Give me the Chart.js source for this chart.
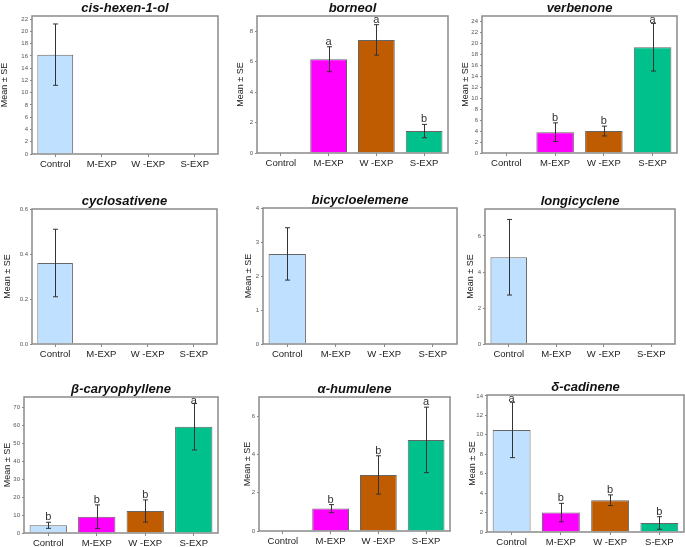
<!DOCTYPE html>
<html>
<head>
<meta charset="utf-8">
<script src="https://cdn.jsdelivr.net/npm/chart.js@4.4.1/dist/chart.umd.min.js"></script>
<style>
  html, body { margin: 0; padding: 0; background: #fff; width: 685px; height: 547px; overflow: hidden; position: relative; }
  canvas { position: absolute; }
</style>
</head>
<body>
<script>
// categories shared by every panel
const categories = ['Control', 'M-EXP', 'W -EXP', 'S-EXP'];
const barColors = ['#bfe0ff', '#ff00ff', '#bf5b00', '#00c08b'];

// compound names (panel titles)
const compounds = ['cis-hexen-1-ol', 'borneol', 'verbenone',
                   'cyclosativene', 'bicycloelemene', 'longicyclene',
                   'β-caryophyllene', 'α-humulene', 'δ-cadinene'];

// means, standard errors and significance letters
const cisHexenolMean = [16.2, 0, 0, 0];
const cisHexenolSE   = [5.0, 0, 0, 0];
const cisHexenolSig  = ['', '', '', ''];

const borneolMean = [0, 6.16, 7.43, 1.44];
const borneolSE   = [0, 0.82, 1.0, 0.44];
const borneolSig  = ['', 'a', 'a', 'b'];

const verbenoneMean = [0, 3.8, 4.0, 19.3];
const verbenoneSE   = [0, 1.7, 0.9, 4.35];
const verbenoneSig  = ['', 'b', 'b', 'a'];

const cyclosativeneMean = [0.36, 0, 0, 0];
const cyclosativeneSE   = [0.15, 0, 0, 0];
const cyclosativeneSig  = ['', '', '', ''];

const bicycloelemeneMean = [2.65, 0, 0, 0];
const bicycloelemeneSE   = [0.77, 0, 0, 0];
const bicycloelemeneSig  = ['', '', '', ''];

const longicycleneMean = [4.82, 0, 0, 0];
const longicycleneSE   = [2.1, 0, 0, 0];
const longicycleneSig  = ['', '', '', ''];

const caryophylleneMean = [4.3, 9.1, 12.3, 59.4];
const caryophylleneSE   = [1.7, 6.6, 6.2, 13.0];
const caryophylleneSig  = ['b', 'b', 'b', 'a'];

const humuleneMean = [0, 1.17, 2.93, 4.76];
const humuleneSE   = [0, 0.21, 1.0, 1.71];
const humuleneSig  = ['', 'b', 'b', 'a'];

const cadineneMean = [10.5, 2.0, 3.27, 0.93];
const cadineneSE   = [2.85, 0.95, 0.55, 0.65];
const cadineneSig  = ['a', 'b', 'b', 'b'];

// y axis ranges / tick steps
const yMaxes = [22.5, 9, 25, 0.6, 4, 7.5, 76, 7, 14.1];
const ySteps = [2, 2, 2, 0.2, 1, 2, 10, 2, 2];

const means = [cisHexenolMean, borneolMean, verbenoneMean, cyclosativeneMean, bicycloelemeneMean,
               longicycleneMean, caryophylleneMean, humuleneMean, cadineneMean];
const errors = [cisHexenolSE, borneolSE, verbenoneSE, cyclosativeneSE, bicycloelemeneSE,
                longicycleneSE, caryophylleneSE, humuleneSE, cadineneSE];
const sigLetters = [cisHexenolSig, borneolSig, verbenoneSig, cyclosativeneSig, bicycloelemeneSig,
                    longicycleneSig, caryophylleneSig, humuleneSig, cadineneSig];

// plot box of each panel on the page: left, top, right, bottom, x of the y-axis title
const boxes = [
  [32, 16, 218, 154, 5],
  [257, 16, 448, 153, 241],
  [482, 16, 677, 153, 466],
  [32, 209, 217, 344, 8],
  [263, 208, 457, 344, 249],
  [485, 209, 675, 344, 471],
  [24, 397, 218, 533, 8],
  [259, 397, 450, 531, 248],
  [487, 395, 684, 532, 473]
];

const FONT = "'Liberation Sans', Arial, sans-serif";
const TOP_SPACE = 17;
const X_AXIS_H = 22;
const RIGHT_SPACE = 3;

// draws white box, frame, title, error bars and letters
const panelPlugin = {
  id: 'panelPlugin',
  beforeDatasetsDraw(chart) {
    const a = chart.chartArea;
    const ctx = chart.ctx;
    ctx.save();
    ctx.fillStyle = '#fff';
    ctx.fillRect(a.left, a.top, a.right - a.left, a.bottom - a.top);
    ctx.restore();
  },
  afterDatasetsDraw(chart) {
    const o = chart.options.plugins.panelPlugin;
    const a = chart.chartArea;
    const ctx = chart.ctx;
    const y = chart.scales.y;
    const meta = chart.getDatasetMeta(0);
    ctx.save();
    // error bars
    ctx.strokeStyle = '#333';
    ctx.lineWidth = 1;
    meta.data.forEach((bar, i) => {
      const m = o.mean[i], e = o.se[i];
      if (!e) return;
      const x = Math.round(bar.x) + 0.5;
      const yt = y.getPixelForValue(m + e);
      const yb = y.getPixelForValue(m - e);
      ctx.beginPath();
      ctx.moveTo(x, yt); ctx.lineTo(x, yb);
      ctx.moveTo(x - 2.5, yt); ctx.lineTo(x + 2.5, yt);
      ctx.moveTo(x - 2.5, yb); ctx.lineTo(x + 2.5, yb);
      ctx.stroke();
    });
    // significance letters
    ctx.fillStyle = '#333';
    ctx.font = '11px ' + FONT;
    ctx.textAlign = 'center';
    ctx.textBaseline = 'middle';
    meta.data.forEach((bar, i) => {
      const t = o.letters[i];
      if (!t) return;
      const yt = y.getPixelForValue(o.mean[i] + o.se[i]);
      ctx.fillText(t, bar.x, Math.max(yt - 5, a.top + 4));
    });
    // frame
    ctx.strokeStyle = '#8a8a8a';
    ctx.lineWidth = 1.5;
    ctx.strokeRect(a.left, a.top, a.right - a.left, a.bottom - a.top);
    // title
    ctx.fillStyle = '#111';
    ctx.font = 'italic bold 13px ' + FONT;
    ctx.textBaseline = 'middle';
    ctx.fillText(o.title, (a.left + a.right) / 2, a.top - 8);
    ctx.restore();
  }
};

boxes.forEach((b, k) => {
  const [bl, bt, br, bb, tx] = b;
  const left = tx - 6;
  const top = bt - TOP_SPACE;
  const w = br - left + RIGHT_SPACE;
  const h = bb - top + X_AXIS_H;
  const yAxisW = bl - left;

  const canvas = document.createElement('canvas');
  canvas.width = w;
  canvas.height = h;
  canvas.style.left = left + 'px';
  canvas.style.top = top + 'px';
  canvas.style.width = w + 'px';
  canvas.style.height = h + 'px';
  document.body.appendChild(canvas);

  const step = ySteps[k];
  new Chart(canvas.getContext('2d'), {
    type: 'bar',
    data: {
      labels: categories,
      datasets: [{
        data: means[k],
        backgroundColor: barColors,
        borderColor: '#666',
        borderWidth: 1,
        barPercentage: 0.77,
        categoryPercentage: 1
      }]
    },
    options: {
      responsive: false,
      animation: false,
      devicePixelRatio: 1,
      layout: { padding: { top: TOP_SPACE, right: RIGHT_SPACE, left: 0, bottom: 0 } },
      plugins: {
        legend: { display: false },
        tooltip: { enabled: false },
        title: { display: false },
        panelPlugin: {
          title: compounds[k],
          mean: means[k],
          se: errors[k],
          letters: sigLetters[k]
        }
      },
      scales: {
        x: {
          afterFit(scale) { scale.height = X_AXIS_H; },
          border: { display: false },
          grid: { offset: false, drawOnChartArea: false, drawTicks: true, tickLength: 3, color: '#888' },
          ticks: { color: '#222', padding: 2, font: { family: FONT, size: 9.5 } }
        },
        y: {
          min: 0,
          max: yMaxes[k],
          afterFit(scale) { scale.width = yAxisW; },
          border: { display: false },
          grid: { drawOnChartArea: false, drawTicks: true, tickLength: 2, color: '#888' },
          ticks: {
            stepSize: step,
            includeBounds: false,
            color: '#555',
            padding: 2,
            font: { family: FONT, size: 6 },
            callback: v => step < 1 ? v.toFixed(1) : v
          },
          title: {
            display: true,
            text: 'Mean ± SE',
            color: '#222',
            padding: 0,
            font: { family: FONT, size: 9 }
          }
        }
      }
    },
    plugins: [panelPlugin]
  });
});
</script>
</body>
</html>
